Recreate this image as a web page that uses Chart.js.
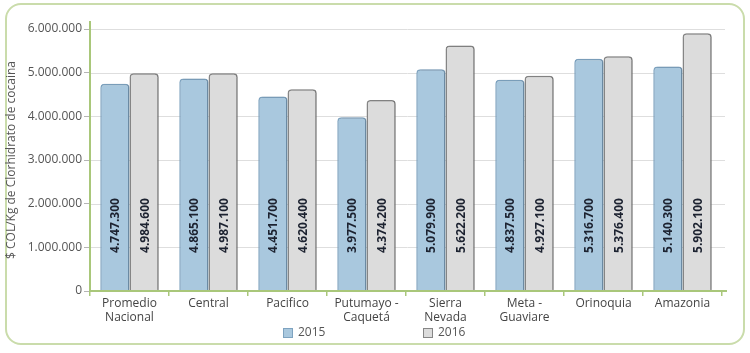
<!DOCTYPE html>
<html>
<head>
<meta charset="UTF-8" />
<script src="https://cdn.jsdelivr.net/npm/chart.js"></script>
<style>
  html, body { margin: 0; padding: 0; background: #fff; }
  .wrap { position: relative; width: 750px; height: 353px; }
  .frame { position: absolute; left: 5px; top: 3px; width: 736px; height: 338px;
           border: 2px solid #cadcab; border-radius: 16px; }
  canvas { position: absolute; left: 0; top: 0; }
</style>
</head>
<body>
<div class="wrap">
  <div class="frame"></div>
  <canvas id="chart" width="750" height="353"></canvas>
</div>
<script>
  // categorias (regiones)
  const categories = [
    ["Promedio", "Nacional"],
    "Central",
    "Pacifico",
    ["Putumayo -", "Caquetá"],
    ["Sierra", "Nevada"],
    ["Meta -", "Guaviare"],
    "Orinoquia",
    "Amazonia",
  ];
  const years = ["2015", "2016"];
  const values2015 = [4747300, 4865100, 4451700, 3977500, 5079900, 4837500, 5316700, 5140300];
  const values2016 = [4984600, 4987100, 4620400, 4374200, 5622200, 4927100, 5376400, 5902100];
  const yTicks = [0, 1000000, 2000000, 3000000, 4000000, 5000000, 6000000];

  const fmt = (v) => v.toString().replace(/\B(?=(\d{3})+(?!\d))/g, ".");
  const FONT = "'Open Sans', 'DejaVu Sans', sans-serif";
  const AXIS_GREEN = "#a9c77a";

  // lineas horizontales de la grilla (solo dentro del area)
  const gridLines = {
    id: "gridLines",
    beforeDatasetsDraw(chart) {
      const { ctx, chartArea: a, scales } = chart;
      ctx.save();
      ctx.strokeStyle = "#dedede";
      ctx.lineWidth = 1;
      ctx.beginPath();
      yTicks.forEach((v) => {
        const y = Math.round(scales.y.getPixelForValue(v)) + 0.5;
        ctx.moveTo(a.left, y);
        ctx.lineTo(a.right + 3, y);
      });
      ctx.stroke();
      ctx.restore();
    },
  };

  // sombra suave de las barras
  const barShadow = {
    id: "barShadow",
    beforeDatasetsDraw(chart) {
      const ctx = chart.ctx;
      ctx.save();
      ctx.shadowColor = "rgba(0,0,0,0.18)";
      ctx.shadowBlur = 2;
      ctx.shadowOffsetX = 1.5;
      ctx.shadowOffsetY = 0;
    },
    afterDatasetsDraw(chart) {
      chart.ctx.restore();
    },
  };

  // etiquetas verticales dentro de las barras
  const barLabels = {
    id: "barLabels",
    afterDatasetsDraw(chart) {
      const ctx = chart.ctx;
      const yPos = chart.scales.y.getPixelForValue(1500000);
      ctx.save();
      ctx.font = "bold 12px " + FONT;
      ctx.fillStyle = "#1c2230";
      ctx.textAlign = "center";
      ctx.textBaseline = "middle";
      chart.data.datasets.forEach((ds, i) => {
        chart.getDatasetMeta(i).data.forEach((bar, j) => {
          ctx.save();
          ctx.translate(bar.x + 1, yPos);
          ctx.rotate(-Math.PI / 2);
          ctx.fillText(fmt(ds.data[j]), 0, 0);
          ctx.restore();
        });
      });
      ctx.restore();
    },
  };

  // lineas de ejes verdes (un poco mas largas que el area)
  const axisLines = {
    id: "axisLines",
    afterDatasetsDraw(chart) {
      const { ctx, chartArea: a } = chart;
      ctx.save();
      ctx.strokeStyle = AXIS_GREEN;
      ctx.lineWidth = 2;
      ctx.beginPath();
      ctx.moveTo(a.left, a.top - 8);
      ctx.lineTo(a.left, a.bottom);
      ctx.moveTo(a.left - 1, a.bottom);
      ctx.lineTo(a.right + 5, a.bottom);
      ctx.stroke();
      ctx.restore();
    },
  };

  // leyenda abajo
  const bottomLegend = {
    id: "bottomLegend",
    afterDraw(chart) {
      const ctx = chart.ctx;
      const xs = [283, 423];
      const y = 333;
      ctx.save();
      ctx.font = "12px " + FONT;
      ctx.textBaseline = "middle";
      chart.data.datasets.forEach((ds, i) => {
        ctx.fillStyle = ds.backgroundColor;
        ctx.strokeStyle = ds.borderColor;
        ctx.lineWidth = 1;
        ctx.fillRect(xs[i], y - 5, 10, 10);
        ctx.strokeRect(xs[i] + 0.5, y - 4.5, 9, 9);
        ctx.fillStyle = "#555";
        ctx.fillText(ds.label, xs[i] + 15, y);
      });
      ctx.restore();
    },
  };

  new Chart(document.getElementById("chart"), {
    type: "bar",
    data: {
      labels: categories,
      datasets: [
        {
          label: years[0],
          data: values2015,
          backgroundColor: "#a9c8de",
          borderColor: "#7ea3c0",
          borderWidth: 1.5,
          borderSkipped: "bottom",
          borderRadius: { topLeft: 4, topRight: 4 },
          barPercentage: 1,
          categoryPercentage: 0.74,
        },
        {
          label: years[1],
          data: values2016,
          backgroundColor: "#dcdcdc",
          borderColor: "#868686",
          borderWidth: 1.5,
          borderSkipped: "bottom",
          borderRadius: { topLeft: 4, topRight: 4 },
          barPercentage: 1,
          categoryPercentage: 0.74,
        },
      ],
    },
    options: {
      responsive: false,
      animation: false,
      layout: { padding: { left: 0, right: 28, top: 29, bottom: 0 } },
      plugins: {
        legend: { display: false },
        tooltip: { enabled: false },
      },
      scales: {
        x: {
          grid: {
            offset: true,
            drawOnChartArea: false,
            drawTicks: true,
            tickLength: 5,
            color: AXIS_GREEN,
            lineWidth: 1.5,
          },
          border: { display: false },
          ticks: {
            color: "#444",
            font: { family: FONT, size: 12 },
            padding: 0,
            maxRotation: 0,
            autoSkip: false,
          },
          afterFit: (s) => { s.height = 62; },
        },
        y: {
          min: 0,
          max: 6000000,
          afterBuildTicks: (s) => { s.ticks = yTicks.map((v) => ({ value: v })); },
          grid: {
            drawOnChartArea: false,
            tickLength: 6,
            tickColor: "#b5b5b5",
          },
          border: { display: false },
          ticks: {
            color: "#555",
            font: { family: FONT, size: 12 },
            padding: 2,
            callback: (v) => fmt(v),
          },
          title: {
            display: true,
            text: "$ COL/Kg de Clorhidrato de cocaina",
            color: "#555",
            font: { family: FONT, size: 12 },
            padding: { top: 4, bottom: 0 },
          },
          afterFit: (s) => { s.width = 90; },
        },
      },
    },
    plugins: [gridLines, barShadow, barLabels, axisLines, bottomLegend],
  });
</script>
</body>
</html>
